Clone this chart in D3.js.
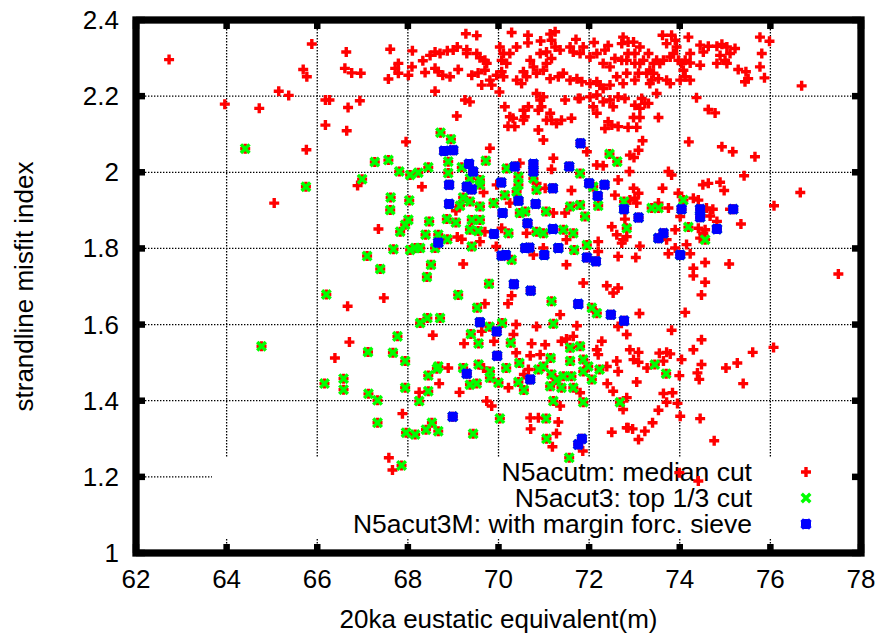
<!DOCTYPE html>
<html>
<head>
<meta charset="utf-8">
<script src="https://cdn.jsdelivr.net/npm/d3@7"></script>
<style>
  body { margin: 0; background: #fff; }
  text { font-family: "Liberation Sans", Arial, sans-serif; fill: #000; }
</style>
</head>
<body>
<div id="graph"></div>
<script>

// tick values
var xTicks = [62, 64, 66, 68, 70, 72, 74, 76, 78];
var yTicks = [1, 1.2, 1.4, 1.6, 1.8, 2, 2.2, 2.4];

var seriesNames = ["N5acutm: median cut", "N5acut3: top 1/3 cut", "N5acut3M: with margin forc. sieve"];

// points only in the median cut (red)
var medianCutOnly = [
 [62.73,2.296],[65.88,2.337],[66.64,2.316],[65.69,2.270],[65.77,2.251],[66.61,2.273],[66.76,2.261],[66.96,2.260],[65.15,2.213],[65.37,2.202],
 [63.96,2.179],[64.72,2.168],[66.18,2.190],[66.27,2.190],[66.94,2.188],[66.68,2.170],[66.18,2.124],[66.65,2.109],[65.76,2.059],[66.89,1.965],
 [65.05,1.919],[67.35,1.851],[66.67,1.648],[66.71,1.554],[66.39,1.512],
 [69.28,2.364],[69.52,2.359],[70.29,2.367],[70.65,2.360],[70.65,2.340],[71.14,2.363],[71.25,2.369],[71.17,2.347],[70.93,2.345],[71.71,2.349],
 [72.11,2.341],[67.61,2.323],[68.10,2.319],[68.33,2.293],
 [68.49,2.307],[68.60,2.316],[68.71,2.312],[68.87,2.319],[69.00,2.321],[69.09,2.329],[69.30,2.322],[69.30,2.312],
 [69.52,2.312],[69.59,2.301],[69.70,2.294],[69.74,2.286],
 [67.79,2.286],[67.72,2.273],[67.79,2.260],[68.01,2.255],[68.09,2.277],[67.57,2.245],
 [68.38,2.262],[68.60,2.273],[68.67,2.264],[68.77,2.255],[68.93,2.251],[69.11,2.270],
 [69.41,2.255],[69.55,2.261],[69.70,2.268],[69.63,2.229],
 [69.81,2.242],[69.96,2.255],[70.07,2.264],[70.11,2.251],[69.85,2.229],
 [70.03,2.329],[70.25,2.312],[70.11,2.312],[70.18,2.286],[70.07,2.294],[70.40,2.329],
 [70.70,2.294],[70.77,2.277],[70.55,2.264],[70.62,2.251],[70.40,2.242],[70.51,2.233],[70.84,2.260],[70.99,2.268],[70.92,2.312],[71.06,2.286],
 [71.17,2.299],[71.25,2.329],[71.36,2.321],[71.06,2.316],
 [71.14,2.246],[71.32,2.251],[71.43,2.260],[71.58,2.242],[71.73,2.246],[71.84,2.238],[72.02,2.233],[72.17,2.238],[72.24,2.229],[72.31,2.220],
 [72.46,2.229],[72.61,2.251],[72.57,2.299],[72.46,2.277],[72.31,2.286],[72.17,2.312],[72.02,2.303],[71.80,2.312],[71.65,2.316],[71.58,2.329],
 [71.87,2.329],[72.42,2.333],[72.35,2.321],
 [68.60,2.213],[69.26,2.190],[69.37,2.185],[69.08,2.148],[70.02,2.211],[70.14,2.172],[70.25,2.146],[70.21,2.121],[70.36,2.120],[70.32,2.142],
 [70.55,2.163],[70.58,2.146],[70.66,2.172],[70.55,2.137],
 [70.84,2.207],[70.92,2.190],[70.99,2.198],[70.95,2.172],[70.88,2.163],[71.14,2.155],[71.06,2.137],[71.17,2.137],[70.88,2.111],[70.99,2.085],
 [71.47,2.190],[71.76,2.194],[71.80,2.194],[71.28,2.128],[71.39,2.137],[71.61,2.142],
 [72.02,2.198],[72.17,2.203],[72.09,2.172],[72.17,2.155],[72.31,2.185],[72.46,2.190],[72.53,2.172],[72.64,2.198],[72.79,2.194],
 [72.42,2.133],[72.35,2.115],[72.50,2.124],[72.64,2.120],
 [67.96,2.080],[69.81,2.063],[71.95,2.054],[71.21,2.037],[72.31,2.017],[72.17,2.019],[72.64,1.980],[71.17,2.008],[70.47,2.024],[68.31,1.962],
 [73.62,2.360],[73.82,2.360],[73.71,2.338],[73.90,2.347],[73.93,2.329],[73.86,2.312],[73.97,2.294],[74.04,2.286],[73.79,2.303],[73.64,2.294],
 [73.49,2.294],[73.42,2.286],[73.56,2.286],[73.34,2.268],[73.42,2.260],[73.27,2.260],[73.09,2.260],[73.12,2.329],[72.98,2.342],[72.86,2.342],
 [72.75,2.355],[72.72,2.338],[72.86,2.312],[73.01,2.312],[73.20,2.294],[73.31,2.312],[73.12,2.286],[73.01,2.286],[72.83,2.294],[72.72,2.294],
 [72.83,2.260],[73.01,2.242],[72.75,2.233],[73.38,2.242],[73.34,2.233],[73.53,2.246],[73.71,2.242],[73.79,2.233],[74.01,2.242],[74.12,2.251],
 [74.23,2.242],[74.08,2.268],[74.12,2.294],[74.23,2.312],[74.23,2.287],[74.45,2.281],[74.45,2.334],[74.63,2.331],[74.52,2.316],[74.82,2.331],
 [74.93,2.336],[75.04,2.329],[75.22,2.325],[75.11,2.312],[74.89,2.307],[75.00,2.294],[74.82,2.286],[75.04,2.286],[75.29,2.270],[75.46,2.264],
 [75.51,2.246],[75.44,2.238],[75.77,2.355],[75.98,2.344],[75.81,2.312],[75.77,2.277],[75.87,2.248],[76.69,2.227],[74.19,2.355],
 [73.49,2.207],[74.37,2.196],[73.16,2.194],[73.23,2.181],[73.01,2.176],[73.12,2.168],[73.31,2.181],[74.63,2.165],[74.78,2.156],[73.53,2.144],
 [72.98,2.144],[73.12,2.144],[72.86,2.118],[73.05,2.118],[73.18,2.083],[74.20,2.080],[74.93,2.067],[75.17,2.054],[75.66,2.041],[73.09,2.058],
 [72.90,2.045],[72.99,2.039],[72.89,2.002],[73.75,2.002],[73.82,1.993],[75.42,1.991],[74.51,1.967],[74.63,1.971],[74.89,1.974],
 [72.98,1.958],[73.09,1.945],[73.01,1.932],[72.90,1.927],[73.05,1.919],[73.62,1.958],[74.98,1.952],[73.97,1.945],[74.30,1.932],[74.41,1.927],
 [73.53,1.919],[73.75,1.906],[74.59,1.906],[74.73,1.903],[75.11,1.903],[76.08,1.912],[76.66,1.947],[75.35,1.864],[72.79,1.877],[72.83,1.831],
 [72.75,1.823],[72.72,1.814],
 [74.01,1.884],[73.90,1.849],[74.41,1.853],[74.56,1.849],[74.52,1.840],[74.82,1.871],[74.67,1.885],[74.45,1.827],[73.71,1.823],[73.12,1.806],
 [73.75,1.786],[73.90,1.801],[74.15,1.810],[74.23,1.786],[73.03,1.776],
 [74.56,1.763],[75.09,1.759],[74.30,1.748],[74.30,1.728],[74.56,1.711],[74.48,1.678],[77.50,1.733],[74.12,1.632],[73.11,1.629],[73.82,1.585],
 [74.48,1.560],[74.30,1.534],[72.90,1.534],[73.09,1.527],[72.98,1.508],[73.09,1.501],[73.55,1.525],[73.71,1.527],[73.79,1.523],[73.64,1.504],
 [74.04,1.508],[74.48,1.495],[75.02,1.486],[75.27,1.499],[75.61,1.527],[76.07,1.540],
 [69.67,1.947],[69.96,1.967],[70.25,1.919],[70.84,1.971],[71.03,1.958],[71.61,1.952],[72.57,1.940],[69.06,1.899],[71.21,1.893],[71.47,1.893],
 [70.62,1.840],[69.70,1.844],[70.07,1.853],[69.09,1.830],[69.19,1.824],[69.59,1.818],[69.95,1.805],[70.77,1.783],[70.99,1.801],[71.50,1.823],
 [71.50,1.757],[72.20,1.818],[72.20,1.792],[72.50,1.857],[72.61,1.836],[72.64,1.779],[71.87,1.709],[72.39,1.702],[72.53,1.683],[72.64,1.696],
 [69.22,1.759],[67.47,1.670],[70.29,1.676],[70.21,1.655],[69.70,1.655],[68.55,1.572],[69.24,1.550],[69.63,1.582],[69.90,1.556],[70.39,1.600],
 [70.84,1.595],[70.33,1.574],[70.73,1.550],[70.39,1.526],[70.70,1.518],[70.92,1.521],[71.03,1.547],[71.39,1.556],[71.50,1.562],[71.65,1.569],
 [71.73,1.597],[71.36,1.626],[72.28,1.556],[72.17,1.534],[72.20,1.521],[72.64,1.595],[72.83,1.574],[72.61,1.504],[69.67,1.486],
 [68.89,1.486],[68.69,1.445],[68.25,1.422],[69.14,1.422],[69.74,1.399],[69.85,1.386],[70.22,1.434],[70.56,1.469],[70.66,1.482],[67.88,1.366],
 [70.70,1.355],[70.88,1.355],[70.71,1.326],[71.32,1.344],[71.28,1.314],[71.19,1.279],[71.86,1.268],[67.58,1.250],[67.66,1.218],[71.36,1.386],
 [71.80,1.421],[72.39,1.490],[72.64,1.477],[72.40,1.445],[72.53,1.425],[72.75,1.377],[72.50,1.317],[72.83,1.329],
 [73.28,1.486],[73.99,1.466],[74.39,1.473],[74.43,1.456],[75.40,1.445],[73.05,1.449],[73.64,1.419],[73.84,1.421],[73.71,1.396],[73.95,1.393],
 [73.53,1.375],[74.01,1.359],[74.45,1.353],[72.83,1.408],[73.40,1.342],[73.23,1.320],[72.86,1.329],[72.96,1.326],[73.09,1.298],[74.76,1.295],
 [73.99,1.211],[74.41,1.189]
];

// points in the top 1/3 cut but not in the margin sieve (green)
var topThirdOnly = [
 [64.41,2.062],[67.27,2.027],[66.99,1.982],[65.75,1.962],
 [67.10,1.780],[67.39,1.746],[66.20,1.679],[64.77,1.543],[67.12,1.528],
 [66.16,1.445],[66.58,1.458],[66.58,1.429],[67.13,1.418],[67.33,1.401],[67.33,1.342],
 [68.72,2.104],[68.95,2.087],[67.57,2.032],[67.81,2.002],[68.05,1.993],[68.23,1.999],[68.45,2.013],[68.89,2.028],[68.89,1.998],[69.19,2.013],
 [69.72,2.030],[69.37,1.984],[69.59,1.980],[70.18,2.010],[70.44,1.988],[70.44,1.967],[70.77,1.984],[71.80,1.997],[72.45,2.048],[72.62,2.028],
 [67.62,1.934],[67.61,1.901],[68.03,1.926],[68.01,1.875],[67.83,1.844],[67.94,1.862],[68.47,1.871],[68.39,1.836],[68.67,1.836],[68.86,1.877],
 [69.06,1.868],[68.87,1.824],[68.60,1.801],[68.16,1.801],[68.05,1.796],[68.27,1.801],[67.68,1.798],[68.51,1.757],[68.42,1.725],[69.11,1.678],
 [69.53,1.644],[69.79,1.707],[69.80,1.594],[70.08,1.604],[69.39,1.575],[69.56,1.550],[68.27,1.604],[68.43,1.617],[68.71,1.617],[67.77,1.569],
 [67.67,1.526],[67.94,1.504],[69.22,1.934],[69.37,1.923],[69.59,1.910],[69.41,1.875],[69.59,1.875],[69.37,1.849],[69.55,1.846],[69.41,1.805],
 [69.89,1.919],[70.14,1.940],[70.84,1.954],[70.47,1.893],[70.59,1.897],[71.05,1.897],[70.84,1.844],[70.99,1.840],[71.43,1.849],[71.65,1.840],
 [71.58,1.910],[71.80,1.914],[71.91,1.884],[72.20,1.912],[71.95,1.809],[71.67,1.796],[71.17,1.661],[72.06,1.644],[72.17,1.630],[71.21,1.602],
 [70.27,1.552],[71.58,1.539],[71.80,1.543],[71.87,1.508],[71.15,1.512],[71.58,1.504],[68.67,1.490],[69.56,1.495],[70.46,1.499],[72.09,1.962],
 [70.22,1.840],[70.40,1.949],[69.59,1.967],[69.15,1.912],[70.29,1.770],
 [72.77,1.923],[73.38,1.906],[73.53,1.906],[74.08,1.927],[74.19,1.856],[72.83,1.853],[74.56,1.823],[73.45,1.495],
 [68.45,1.466],[68.45,1.425],[68.64,1.484],[67.94,1.434],[68.25,1.399],[67.96,1.316],[68.16,1.311],[68.40,1.324],[68.53,1.342],[68.67,1.320],
 [67.86,1.230],[69.44,1.313],[69.52,1.445],[69.22,1.486],[69.81,1.477],[69.81,1.460],[70.00,1.447],[69.37,1.442],[70.17,1.486],[70.44,1.449],
 [70.56,1.428],[70.03,1.353],[70.88,1.482],[70.99,1.490],[71.17,1.469],[71.28,1.454],[71.43,1.464],[71.14,1.438],[71.39,1.434],[71.61,1.464],
 [71.65,1.434],[71.87,1.477],[71.98,1.490],[72.06,1.456],[72.23,1.482],[71.21,1.399],[71.87,1.396],[71.05,1.353],[71.06,1.300],[71.56,1.250],
 [72.68,1.396],[73.70,1.471]
];

// points that also pass the margin forcing sieve (blue)
var marginSieve = [
 [68.80,2.056],[69.00,2.058],[71.81,2.076],[69.35,2.022],[69.44,2.002],[70.36,2.015],[70.77,2.022],[70.77,2.002],[71.56,2.015],
 [68.91,1.967],[69.30,1.962],[69.41,1.955],[70.06,1.973],[71.20,1.958],[72.00,1.971],[72.34,1.967],[72.19,1.938],[68.91,1.917],[70.44,1.925],
 [70.82,1.917],[70.09,1.893],[70.64,1.866],[71.20,1.851],[69.90,1.838],[68.67,1.815],[70.16,1.783],[70.07,1.781],[70.59,1.801],[70.68,1.802],
 [71.01,1.783],[71.32,1.801],[71.95,1.776],[72.15,1.766],[70.34,1.706],[70.71,1.689],[71.76,1.654],[72.48,1.626],[72.77,1.610],[69.59,1.606],
 [69.96,1.582],[69.97,1.518],
 [72.77,1.903],[73.09,1.881],[73.64,1.840],[73.53,1.827],[74.04,1.903],[74.45,1.903],[74.45,1.882],[74.82,1.851],[75.18,1.903],[74.01,1.783],
 [69.30,1.471],[70.70,1.456],[68.99,1.358],[71.84,1.300],[71.76,1.285]
];

// the cuts are nested: sieve is inside top 1/3, top 1/3 inside median
var topThirdCut = topThirdOnly.concat(marginSieve);
var medianCut = medianCutOnly.concat(topThirdCut);

function draw() {
    var W = 885, H = 638;
    var margin = {top: 20, right: 24, bottom: 85, left: 136};
    var width = W - margin.left - margin.right,
        height = H - margin.top - margin.bottom;

    var xScale = d3.scaleLinear().domain([62, 78]).range([0, width]);
    var yScale = d3.scaleLinear().domain([1, 2.4]).range([height, 0]);

    var svg = d3.select("#graph").append("svg")
        .attr("width", W).attr("height", H);
    var g = svg.append("g")
        .attr("transform", "translate(" + margin.left + "," + margin.top + ")");

    // dotted grid
    var grid = g.append("g").attr("class", "grid")
        .attr("stroke", "#000").attr("stroke-width", 1.3)
        .attr("stroke-dasharray", "1.4,1.6");
    grid.selectAll("line.v").data(xTicks.slice(1, -1)).enter().append("line")
        .attr("x1", function(d) { return xScale(d); })
        .attr("x2", function(d) { return xScale(d); })
        .attr("y1", 0).attr("y2", height);
    grid.selectAll("line.h").data(yTicks.slice(1, -1)).enter().append("line")
        .attr("y1", function(d) { return yScale(d); })
        .attr("y2", function(d) { return yScale(d); })
        .attr("x1", 0).attr("x2", width);

    // opaque key box (hides the grid under it)
    var keyLeft = 76, keyTop = 437;
    g.append("rect")
        .attr("x", keyLeft).attr("y", keyTop)
        .attr("width", width - keyLeft).attr("height", 518 - keyTop)
        .attr("fill", "#fff");

    // key text
    var keyTextX = 616, keyMarkX = 670, keyY0 = 461, keyStep = 26;
    g.selectAll("text.key").data(seriesNames).enter().append("text")
        .attr("class", "key")
        .attr("x", keyTextX)
        .attr("y", function(d, i) { return keyY0 + i * keyStep; })
        .attr("text-anchor", "end")
        .style("font-size", "26.5px")
        .text(function(d) { return d; });

    // point symbols: + , x , *
    var plusPath = "M-5,0H5M0,-5V5";
    var crossPath = "M-4.3,-4.3L4.3,4.3M-4.3,4.3L4.3,-4.3";
    var starPath = plusPath + crossPath;
    var styles = [
        {data: medianCut, path: plusPath, color: "#ff0000", sw: 3.4},
        {data: topThirdCut, path: crossPath, color: "#00ff00", sw: 3.4},
        {data: marginSieve, path: starPath, color: "#0000ff", sw: 3.8}
    ];

    styles.forEach(function(s, i) {
        g.append("g").selectAll("path").data(s.data).enter().append("path")
            .attr("d", s.path)
            .attr("transform", function(d) { return "translate(" + xScale(d[0]) + "," + yScale(d[1]) + ")"; })
            .attr("fill", "none").attr("stroke", s.color).attr("stroke-width", s.sw);
        // key sample
        g.append("path")
            .attr("d", s.path)
            .attr("transform", "translate(" + keyMarkX + "," + (keyY0 - 9 + i * keyStep) + ")")
            .attr("fill", "none").attr("stroke", s.color).attr("stroke-width", s.sw);
    });

    // frame and mirrored ticks
    var tk = 9;
    var ticks = g.append("g").attr("stroke", "#000").attr("stroke-width", 6.5);
    xTicks.forEach(function(d) {
        ticks.append("line").attr("x1", xScale(d)).attr("x2", xScale(d)).attr("y1", height).attr("y2", height - tk);
        ticks.append("line").attr("x1", xScale(d)).attr("x2", xScale(d)).attr("y1", 0).attr("y2", tk);
    });
    yTicks.forEach(function(d) {
        ticks.append("line").attr("y1", yScale(d)).attr("y2", yScale(d)).attr("x1", 0).attr("x2", tk);
        ticks.append("line").attr("y1", yScale(d)).attr("y2", yScale(d)).attr("x1", width).attr("x2", width - tk);
    });
    g.append("rect")
        .attr("x", 0).attr("y", 0).attr("width", width).attr("height", height)
        .attr("fill", "none").attr("stroke", "#000").attr("stroke-width", 7.3);

    // tick labels
    g.selectAll("text.xt").data(xTicks).enter().append("text")
        .attr("x", function(d) { return xScale(d); })
        .attr("y", height + 35)
        .attr("text-anchor", "middle")
        .style("font-size", "26px")
        .text(function(d) { return d; });
    g.selectAll("text.yt").data(yTicks).enter().append("text")
        .attr("x", -17)
        .attr("y", function(d) { return yScale(d) + 9; })
        .attr("text-anchor", "end")
        .style("font-size", "26px")
        .text(function(d) { return d3.format("~g")(d); });

    // axis titles
    g.append("text")
        .attr("text-anchor", "middle")
        .attr("transform", "translate(" + (width / 2) + "," + (height + 75) + ")")
        .style("font-size", "26px")
        .text("20ka eustatic equivalent(m)");
    g.append("text")
        .attr("text-anchor", "middle")
        .attr("transform", "translate(" + (-margin.left + 33) + "," + (height / 2) + ")rotate(-90)")
        .style("font-size", "26px")
        .text("strandline misfit index");
}

draw();
</script>
</body>
</html>
